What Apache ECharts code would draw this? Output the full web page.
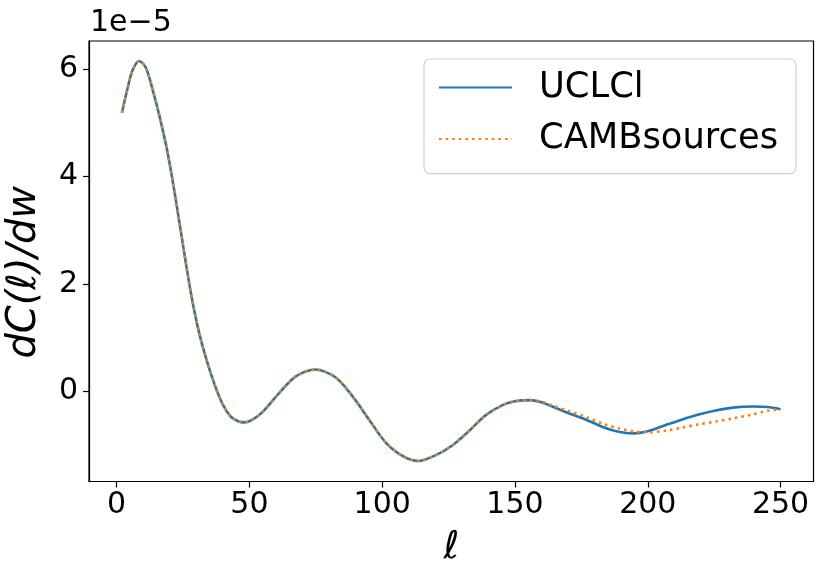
<!DOCTYPE html>
<html>
<head>
<meta charset="utf-8">
<script src="https://cdn.jsdelivr.net/npm/echarts@6/dist/echarts.min.js"></script>
<style>
html,body{margin:0;padding:0;background:#fff;}
#chart{width:831px;height:582px;}
</style>
</head>
<body>
<div id="chart"></div>
<script>
// multipoles ell
const ell = [2, 4, 6, 8.5, 11, 13.5, 16, 19, 22, 25, 28, 31, 34, 37, 40, 43, 46, 48, 51, 55, 61, 67.5, 75, 82.5, 89, 95, 101.5, 108, 113.5, 120, 126.5, 133, 139, 145.5, 150, 155.5, 160, 164, 170, 177, 183, 189, 194.5, 200, 207, 213, 219.5, 226, 232, 239.5, 245, 250];
// dC(ell)/dw in units of 1e-5
const uclcl = [5.19, 5.62, 5.98, 6.155, 6.03, 5.63, 5.155, 4.495, 3.655, 2.725, 1.825, 1.105, 0.565, 0.115, -0.245, -0.47, -0.56, -0.575, -0.53, -0.38, -0.04, 0.28, 0.41, 0.26, -0.1, -0.52, -0.96, -1.21, -1.295, -1.19, -1.0, -0.72, -0.44, -0.25, -0.18, -0.16, -0.2, -0.28, -0.4, -0.53, -0.66, -0.75, -0.78, -0.74, -0.62, -0.52, -0.425, -0.35, -0.3, -0.28, -0.29, -0.33];
const cambsources = [5.19, 5.62, 5.98, 6.155, 6.03, 5.63, 5.155, 4.495, 3.655, 2.725, 1.825, 1.105, 0.565, 0.115, -0.245, -0.47, -0.56, -0.575, -0.53, -0.38, -0.04, 0.28, 0.41, 0.26, -0.1, -0.52, -0.96, -1.21, -1.295, -1.19, -1.0, -0.72, -0.44, -0.25, -0.18, -0.16, -0.19, -0.26, -0.36, -0.48, -0.6, -0.685, -0.74, -0.76, -0.73, -0.67, -0.61, -0.555, -0.5, -0.43, -0.36, -0.33];
const xTicks = [0, 50, 100, 150, 200, 250];
const yTicks = [0, 2, 4, 6];
const seriesNames = ['UCLCl', 'CAMBsources'];
const offsetText = '1e\u22125';

const FONT = 'DejaVu Sans';
const chart = echarts.init(document.getElementById('chart'), null, {renderer: 'canvas'});
const pairs = arr => ell.map((l, i) => [l, arr[i]]);
const axisLineStyle = {color: '#000', width: 1.2};

chart.setOption({
  animation: false,
  backgroundColor: '#fff',
  grid: {left: 89, right: 17.5, top: 41, bottom: 100.5, containLabel: false, outerBoundsMode: 'none',
         show: true, borderColor: '#000', borderWidth: 1.2, backgroundColor: 'transparent'},
  xAxis: {
    type: 'value', min: -10.4, max: 262.4,
    name: '\u2113', nameLocation: 'middle', nameGap: 48,
    nameTextStyle: {fontFamily: FONT, fontStyle: 'italic', fontSize: 38, color: '#000'},
    axisLine: {show: true, onZero: false, lineStyle: axisLineStyle},
    splitLine: {show: false},
    axisTick: {show: true, inside: false, length: 6, lineStyle: axisLineStyle, customValues: xTicks},
    axisLabel: {fontFamily: FONT, fontSize: 30, color: '#000', margin: 9, customValues: xTicks}
  },
  yAxis: {
    type: 'value', min: -1.676, max: 6.527,
    name: 'dC(\u2113)/dw', nameLocation: 'middle', nameGap: 44, nameRotate: 90,
    nameTextStyle: {fontFamily: FONT, fontStyle: 'italic', fontSize: 40, color: '#000', padding: [0, 22, 0, 0]},
    axisLine: {show: true, onZero: false, lineStyle: axisLineStyle},
    splitLine: {show: false},
    axisTick: {show: true, inside: false, length: 6, lineStyle: axisLineStyle, customValues: yTicks},
    axisLabel: {fontFamily: FONT, fontSize: 30, color: '#000', margin: 11, customValues: yTicks}
  },
  legend: {
    left: 424, top: 59, orient: 'vertical',
    backgroundColor: 'rgba(255,255,255,0.8)', borderColor: '#d0d0d0', borderWidth: 1.2, borderRadius: 6,
    padding: [11, 18, 17, 14],
    itemWidth: 73, itemHeight: 35, itemGap: 16.6,
    itemStyle: {color: 'rgba(0,0,0,0)', borderWidth: 0},
    textStyle: {fontFamily: FONT, fontSize: 35.3, color: '#000', padding: [0, 0, 0, 22]},
    data: seriesNames
  },
  graphic: [{type: 'text', left: 90, top: 8, style: {text: offsetText, fontFamily: FONT, fontSize: 30, fill: '#000'}}],
  series: [
    {name: seriesNames[0], type: 'line', data: pairs(uclcl), smooth: 0.3, symbol: 'none', clip: true,
     lineStyle: {color: '#1f77b4', width: 2.6}, itemStyle: {color: '#1f77b4'}, z: 2},
    {name: seriesNames[1], type: 'line', data: pairs(cambsources), smooth: 0.3, symbol: 'none', clip: true,
     lineStyle: {color: '#ff7f0e', width: 2.6, type: [2.6, 4]}, itemStyle: {color: '#ff7f0e'}, z: 3}
  ]
});
</script>
</body>
</html>
